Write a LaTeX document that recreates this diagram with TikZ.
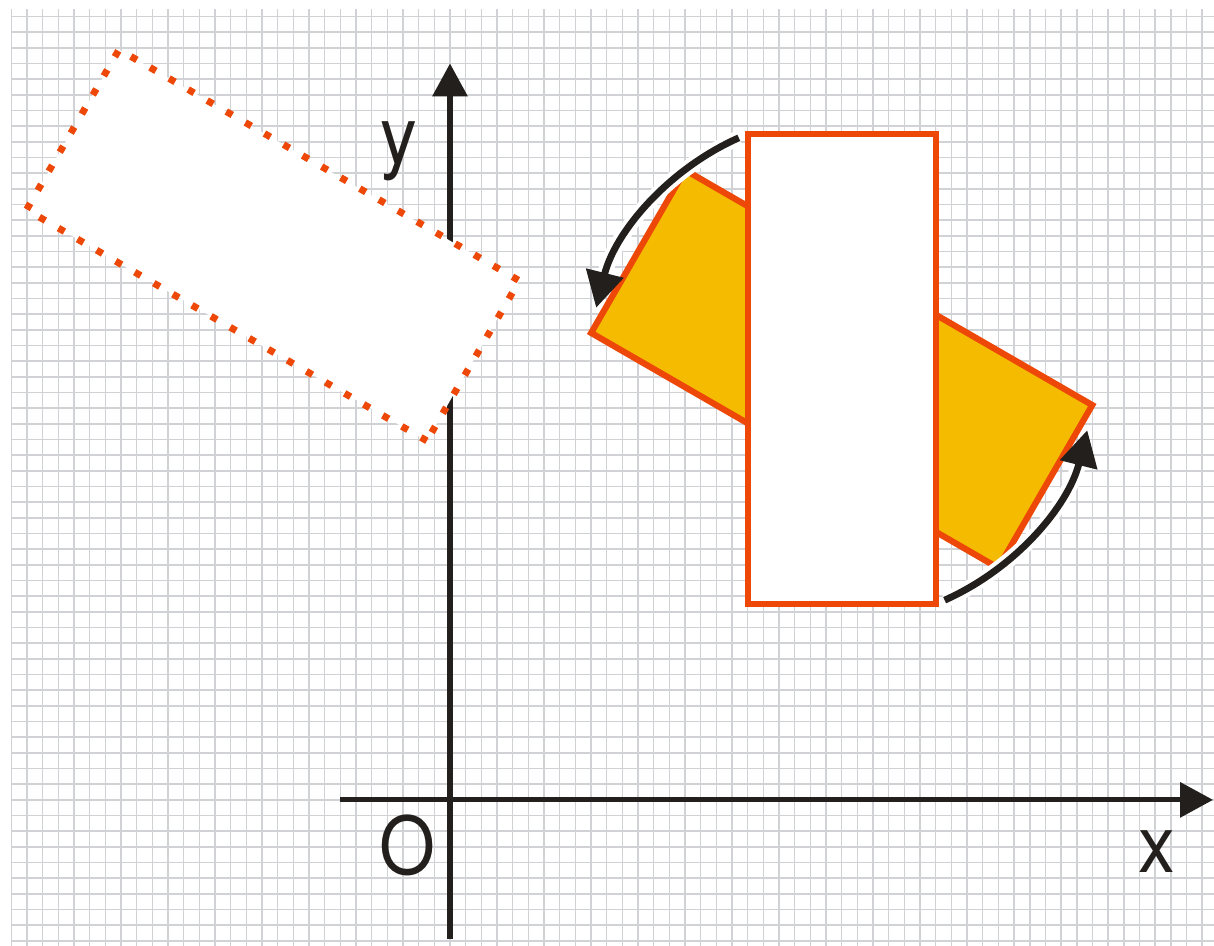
\documentclass[tikz,border=0pt]{standalone}
\usepackage{fontspec}
\setmainfont{TeX Gyre Heros}
\usepackage{tikz}
\usetikzlibrary{arrows.meta,calc}
\definecolor{frameorange}{RGB}{238,72,8}
\definecolor{amber}{RGB}{245,187,0}
\definecolor{gridgray}{RGB}{208,210,214}
\definecolor{ink}{RGB}{35,31,28}

\begin{document}
\begin{tikzpicture}[x=0.4cm, y=0.4cm,
  every node/.style={font=\fontsize{58}{64}\selectfont, text=ink, inner sep=0pt},
  gridline/.style={gridgray, line width=1.1pt},
  axis/.style={ink, line width=3.8pt, -{Triangle[length=24pt, width=25pt]}},
  frame/.style={frameorange, line width=4.5pt, line join=miter},
  dotframe/.style={frameorange, line width=5pt, fill=white, dash pattern=on 5pt off 11pt},
  halo/.style={white, line width=11pt, shorten >=24pt},
  turn/.style={ink, line width=5pt, -{Triangle[length=26pt, width=27pt]}}]
  \useasboundingbox[fill=white] (-28.72,-9.32) rectangle (48.76,51.05);
  % grid
  \foreach \u in {-28,...,48}
    \draw[gridline] (\u,-9.32) -- (\u,50.45);
  \foreach \v in {-9,...,50}
    \draw[gridline] (-28,\v) -- (48.76,\v);
  % axes
  \coordinate (O) at (0,0);
  \coordinate (xend) at (48.7,0);
  \coordinate (yend) at (0,47);
  \draw[axis] (-7,0) -- (xend);
  \draw[axis] (0,-8.9) -- (yend);
  \node[anchor=base, xscale=0.92] (xlabel) at (45.09,-4.66) {x};
  \node[anchor=base, xscale=0.92] (ylabel) at (-3.25,40.62) {y};
  \node[anchor=base, xscale=0.9] (olabel) at (-2.74,-4.79) {O};
  % shifted copy, dotted
  \coordinate (dc) at (-11.3,35.4);
  \draw[dotframe, rotate around={60:(dc)}]
    ($(dc)+(-5.9,-14.75)$) rectangle ($(dc)+(5.9,14.75)$);
  % rotated and upright rectangle
  \coordinate (c) at (25,27.5);
  \draw[frame, fill=amber, rotate around={60:(c)}] (19,12.5) rectangle (31,42.5);
  \draw[frame, fill=white] (19,12.5) rectangle (31,42.5);
  % turning arrows
  \draw[halo] ($(c)+(114:16.15)$) arc[start angle=114, end angle=166, radius=16.15];
  \draw[turn] ($(c)+(114:16.15)$) arc[start angle=114, end angle=166, radius=16.15];
  \draw[halo] ($(c)+(-66:16.15)$) arc[start angle=-66, end angle=-14, radius=16.15];
  \draw[turn] ($(c)+(-66:16.15)$) arc[start angle=-66, end angle=-14, radius=16.15];
\end{tikzpicture}
\end{document}
